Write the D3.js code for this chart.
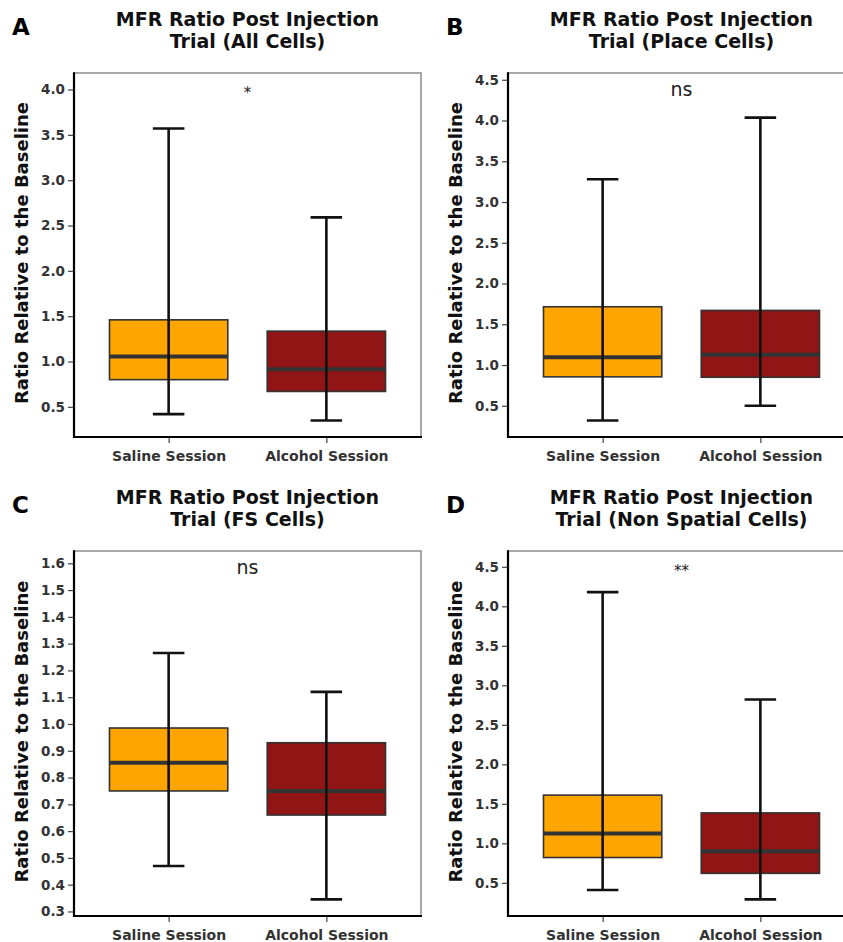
<!DOCTYPE html>
<html>
<head>
<meta charset="utf-8">
<script src="https://cdn.jsdelivr.net/npm/d3@7"></script>
<style>
  html, body { margin: 0; padding: 0; background: #fff; }
  svg { display: block; font-family: "DejaVu Sans", Verdana, sans-serif; }
</style>
</head>
<body>
<svg id="chart" width="843" height="942"></svg>
<script>
// ---------------- data ----------------
const categories = ["Saline Session", "Alcohol Session"];
const panelLetters = ["A", "B", "C", "D"];
const titleLine1 = ["MFR Ratio Post Injection", "MFR Ratio Post Injection", "MFR Ratio Post Injection", "MFR Ratio Post Injection"];
const titleLine2 = ["Trial (All Cells)", "Trial (Place Cells)", "Trial (FS Cells)", "Trial (Non Spatial Cells)"];
const yAxisTitle = "Ratio Relative to the Baseline";

// box stats per panel: [lower whisker, Q1, median, Q3, upper whisker]
const salineStats = [
  [0.42, 0.80, 1.055, 1.46, 3.57],
  [0.32, 0.855, 1.095, 1.715, 3.28],
  [0.47, 0.75, 0.855, 0.985, 1.265],
  [0.41, 0.82, 1.125, 1.61, 4.18]
];
const alcoholStats = [
  [0.35, 0.67, 0.915, 1.335, 2.59],
  [0.50, 0.85, 1.125, 1.67, 4.035],
  [0.345, 0.66, 0.75, 0.93, 1.12],
  [0.29, 0.62, 0.90, 1.385, 2.82]
];
// significance annotations
const sigLabels = ["*", "ns", "ns", "**"];
const sigY = [4.0, 4.38, 1.584, 4.49];
// y tick labels
const yTicksA = [0.5, 1.0, 1.5, 2.0, 2.5, 3.0, 3.5, 4.0];
const yTicksB = [0.5, 1.0, 1.5, 2.0, 2.5, 3.0, 3.5, 4.0, 4.5];
const yTicksC = [0.3, 0.4, 0.5, 0.6, 0.7, 0.8, 0.9, 1.0, 1.1, 1.2, 1.3, 1.4, 1.5, 1.6];
const yTicksD = [0.5, 1.0, 1.5, 2.0, 2.5, 3.0, 3.5, 4.0, 4.5];
const yTicks = [yTicksA, yTicksB, yTicksC, yTicksD];

// ---------------- layout / style ----------------
const fillColors = ["#FFA500", "#911515"];
const layout = [
  {left: 74,  top: 73,  bottom: 437},
  {left: 508, top: 73,  bottom: 437},
  {left: 74,  top: 551, bottom: 916},
  {left: 508, top: 551, bottom: 916}
];
const plotW = 347;
const FONT = "'DejaVu Sans', Verdana, sans-serif";

const svg = d3.select("#chart");

panelLetters.forEach((letter, i) => {
  const L = layout[i];
  const g = svg.append("g");
  const stats = [salineStats[i], alcoholStats[i]];

  // y domain: data range + annotation, expanded 5%
  const allVals = stats.flat().concat([sigY[i]]);
  const lo = d3.min(allVals), hi = d3.max(allVals);
  const pad = (hi - lo) * 0.05;
  const y = d3.scaleLinear().domain([lo - pad, hi + pad]).range([L.bottom, L.top]);

  // discrete x: positions 1,2 in [0.4, 2.6]
  const xc = d3.scaleLinear().domain([0.4, 2.6]).range([L.left, L.left + plotW]);
  const unit = xc(1) - xc(0);

  // frame (top/right gray)
  g.append("rect")
    .attr("x", L.left).attr("y", L.top)
    .attr("width", plotW).attr("height", L.bottom - L.top)
    .attr("fill", "none").attr("stroke", "#8c8c8c").attr("stroke-width", 1.5);

  // boxes
  stats.forEach((s, j) => {
    const cx = xc(j + 1);
    const bw = 0.75 * unit;
    g.append("rect")
      .attr("x", cx - bw / 2).attr("y", y(s[3]))
      .attr("width", bw).attr("height", y(s[1]) - y(s[3]))
      .attr("fill", fillColors[j]).attr("stroke", "#333333").attr("stroke-width", 1.6);
    g.append("line")
      .attr("x1", cx - bw / 2).attr("x2", cx + bw / 2)
      .attr("y1", y(s[2])).attr("y2", y(s[2]))
      .attr("stroke", "#333333").attr("stroke-width", 4);
    // whisker (drawn on top)
    const cw = 0.2 * unit;
    g.append("line")
      .attr("x1", cx).attr("x2", cx)
      .attr("y1", y(s[0])).attr("y2", y(s[4]))
      .attr("stroke", "#111").attr("stroke-width", 2.6);
    [s[0], s[4]].forEach(v => {
      g.append("line")
        .attr("x1", cx - cw / 2).attr("x2", cx + cw / 2)
        .attr("y1", y(v)).attr("y2", y(v))
        .attr("stroke", "#111").attr("stroke-width", 2.6);
    });
  });

  // axes lines
  g.append("line").attr("x1", L.left).attr("x2", L.left)
    .attr("y1", L.top - 0.75).attr("y2", L.bottom + 1)
    .attr("stroke", "#000").attr("stroke-width", 2.2);
  g.append("line").attr("x1", L.left - 1).attr("x2", L.left + plotW + 1)
    .attr("y1", L.bottom).attr("y2", L.bottom)
    .attr("stroke", "#000").attr("stroke-width", 2.2);

  // y axis via d3
  const yAxis = d3.axisLeft(y).tickValues(yTicks[i]).tickFormat(d3.format(".1f"))
    .tickSize(5).tickPadding(3);
  const ya = g.append("g").attr("transform", `translate(${L.left - 1},0)`).call(yAxis);
  ya.select(".domain").remove();
  ya.selectAll(".tick line").attr("stroke", "#444").attr("stroke-width", 1.2);
  ya.selectAll(".tick text").attr("fill", "#333").attr("font-size", 13.5).attr("font-weight", "bold")
    .attr("font-family", FONT);

  // x axis
  const xb = d3.scalePoint().domain(categories).range([xc(1), xc(2)]);
  const xAxis = d3.axisBottom(xb).tickSize(5).tickPadding(8);
  const xa = g.append("g").attr("transform", `translate(0,${L.bottom + 1})`).call(xAxis);
  xa.select(".domain").remove();
  xa.selectAll(".tick line").attr("stroke", "#444").attr("stroke-width", 1.2);
  xa.selectAll(".tick text").attr("fill", "#333").attr("font-size", 14).attr("font-weight", "bold")
    .attr("font-family", FONT);

  // significance label
  const isNs = sigLabels[i] === "ns";
  g.append("text")
    .attr("x", L.left + plotW / 2)
    .attr("y", y(sigY[i]))
    .attr("dy", isNs ? "0.35em" : "0.55em")
    .attr("text-anchor", "middle")
    .attr("font-size", isNs ? 19 : 15)
    .attr("fill", "#222")
    .text(sigLabels[i]);

  // title (two lines)
  const tx = L.left + plotW / 2;
  g.append("text").attr("x", tx).attr("y", L.top - 47.3)
    .attr("text-anchor", "middle").attr("font-size", 19).attr("font-weight", "bold").attr("fill", "#111")
    .text(titleLine1[i]);
  g.append("text").attr("x", tx).attr("y", L.top - 25.1)
    .attr("text-anchor", "middle").attr("font-size", 19).attr("font-weight", "bold").attr("fill", "#111")
    .text(titleLine2[i]);

  // panel letter
  g.append("text").attr("x", L.left - 62).attr("y", L.top - 38)
    .attr("font-size", 23).attr("font-weight", "bold").attr("fill", "#000")
    .text(letter);

  // y axis title
  g.append("text")
    .attr("transform", `translate(${L.left - 46},${(L.top + L.bottom) / 2 - 2}) rotate(-90)`)
    .attr("text-anchor", "middle").attr("font-size", 18).attr("font-weight", "bold").attr("fill", "#111")
    .text(yAxisTitle);
});
</script>
</body>
</html>
